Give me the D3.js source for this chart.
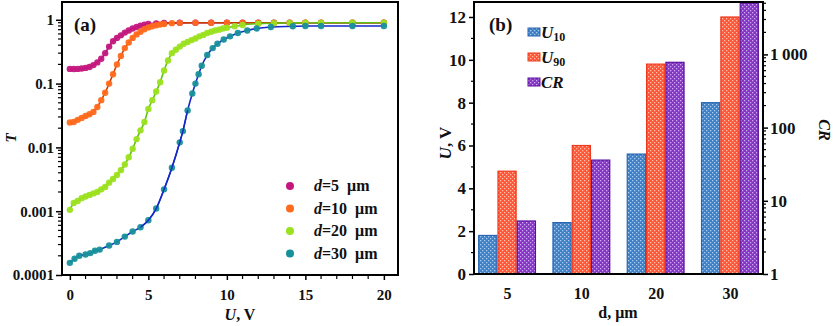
<!DOCTYPE html>
<html><head><meta charset="utf-8">
<script src="https://cdn.jsdelivr.net/npm/d3@7"></script>
<style>
body{margin:0;background:#fff}
svg{display:block}
text{font-family:"Liberation Serif","Times New Roman",serif;font-weight:bold;fill:#111}
</style>
</head><body>
<svg id="c" width="834" height="326"></svg>
<script>
// ---------- Panel (a) data ----------
const U_d5 = [0,0.25,0.5,0.75,1.0,1.25,1.5,1.75,2.0,2.25,2.5,2.75,3.0,3.25,3.5,3.75,4.0,4.25,4.5,4.75,5.0,5.5,6.0,7.0,8,9,10,11,12,13,14,15,16,18,20];
const T_d5 = [0.170,0.169,0.170,0.172,0.176,0.182,0.195,0.215,0.245,0.300,0.380,0.460,0.520,0.570,0.630,0.680,0.730,0.770,0.810,0.835,0.860,0.880,0.890,0.900,0.90,0.90,0.90,0.90,0.90,0.90,0.90,0.90,0.90,0.90,0.90];

const U_d10 = [0,0.25,0.5,0.75,1.0,1.25,1.5,1.75,2.0,2.25,2.5,2.75,3.0,3.25,3.5,3.75,4.0,4.25,4.5,4.75,5.0,5.25,5.5,5.75,6.0,6.5,7.0,8,9,10,11,12,13,14,15,16,18,20];
const T_d10 = [0.0245,0.025,0.027,0.029,0.031,0.033,0.036,0.043,0.055,0.072,0.100,0.140,0.200,0.270,0.360,0.440,0.520,0.590,0.650,0.710,0.760,0.790,0.820,0.845,0.860,0.885,0.895,0.90,0.90,0.90,0.90,0.90,0.90,0.90,0.90,0.90,0.90,0.90];

const U_d20 = [0,0.25,0.5,0.75,1.0,1.25,1.5,1.75,2.0,2.25,2.5,2.75,3.0,3.25,3.5,3.75,4.0,4.25,4.5,4.75,5.0,5.25,5.5,5.75,6.0,6.25,6.5,6.75,7.0,7.25,7.5,7.75,8.0,8.25,8.5,8.75,9.0,9.25,9.5,9.75,10.0,10.5,11.0,12,13,14,15,16,18,20];
const T_d20 = [0.00105,0.00135,0.00145,0.0016,0.0017,0.0018,0.0019,0.0020,0.0022,0.0024,0.0028,0.0032,0.0037,0.0044,0.0054,0.0070,0.0095,0.0135,0.0185,0.025,0.040,0.055,0.075,0.105,0.160,0.230,0.300,0.340,0.380,0.420,0.450,0.480,0.510,0.550,0.580,0.620,0.650,0.680,0.700,0.730,0.750,0.790,0.830,0.870,0.885,0.895,0.90,0.90,0.90,0.90];

const U_d30 = [0,0.3,0.6,1.0,1.3,1.6,1.9,2.5,3.0,3.5,4.0,4.5,5.0,5.5,6.0,6.5,7.0,7.2,7.5,7.8,8.0,8.2,8.4,8.75,9.1,9.4,9.8,10.2,10.7,11.3,11.9,12.8,14.2,15,16,18,20];
const T_d30 = [0.000155,0.00018,0.0002,0.00021,0.00022,0.00024,0.00025,0.00029,0.00033,0.00040,0.00048,0.00056,0.00072,0.0011,0.0022,0.0048,0.012,0.018,0.038,0.070,0.100,0.140,0.190,0.280,0.360,0.420,0.490,0.550,0.620,0.680,0.730,0.770,0.790,0.800,0.800,0.800,0.800];

const seriesA_labels = ["5","10","20","30"];
const seriesA_marker = ["#c4177e","#ff6a1c","#9be21e","#17909a"];
const seriesA_line   = ["#a00060","#c83c00","#62c010","#1428c8"];
const yTicksA = [1e-4,1e-3,1e-2,0.1,1];
const yTickLabelsA = ["0.0001","0.001","0.01","0.1","1"];
const xTicksA = [0,5,10,15,20];

// ---------- Panel (b) data ----------
const categoriesB = ["5","10","20","30"];
const U10 = [1.8,2.4,5.6,8.0];
const U90 = [4.8,6.0,9.8,12.0];
const CR  = [5.3,36,780,5000];
const leftTicksB = [0,2,4,6,8,10,12];
const rightTicksB = [1,10,100,1000];
const rightTickLabelsB = ["1","10","100","1\u2009000"];

const svg = d3.select("#c");

// ================= Panel (a) =================
const ax = d3.scaleLinear([-0.5,20.9],[62,398]);
const ay = d3.scaleLog([1e-4,1.9],[275,2]);
const gA = svg.append("g");

const dataA = [[U_d5,T_d5],[U_d10,T_d10],[U_d20,T_d20],[U_d30,T_d30]];
const line = d3.line().x(d=>ax(d[0])).y(d=>ay(d[1])).curve(d3.curveMonotoneX);
dataA.forEach((s,i)=>{
  const pts = s[0].map((u,k)=>[u,s[1][k]]);
  gA.append("path").attr("d",line(pts)).attr("fill","none")
    .attr("stroke",seriesA_line[i]).attr("stroke-width",1.6);
});
dataA.forEach((s,i)=>{
  const pts = s[0].map((u,k)=>[u,s[1][k]]);
  gA.selectAll(null).data(pts).enter().append("circle")
    .attr("cx",d=>ax(d[0])).attr("cy",d=>ay(d[1])).attr("r",3.2)
    .attr("fill",seriesA_marker[i]).attr("fill-opacity",0.95);
});
{
  const pts = U_d30.map((u,k)=>[u,T_d30[k]]).filter(d=>d[0]>=4.5 && d[0]<=7.6);
  gA.append("path").attr("d",line(pts)).attr("fill","none").attr("stroke","#1428c8").attr("stroke-width",1.4);
}

gA.append("rect").attr("x",62).attr("y",2).attr("width",336).attr("height",273)
  .attr("fill","none").attr("stroke","#000").attr("stroke-width",2);

const yMinorA = ay.ticks().filter(v=>!yTicksA.some(t=>Math.abs(t-v)/t<1e-6));
gA.selectAll(null).data(yMinorA).enter().append("line")
  .attr("x1",62).attr("x2",58).attr("y1",d=>ay(d)).attr("y2",d=>ay(d)).attr("stroke","#000").attr("stroke-width",1.2);
const axLeftA = d3.axisLeft(ay).tickValues(yTicksA).tickFormat((d,i)=>yTickLabelsA[i]).tickSize(6).tickPadding(2);
const gl = gA.append("g").attr("transform","translate(62,0)").call(axLeftA);
gl.select(".domain").remove();
gl.selectAll("line").attr("stroke","#000").attr("stroke-width",1.5);
gl.selectAll("text").attr("font-size",15).attr("font-family","Liberation Serif").attr("font-weight","bold").attr("fill","#111");

const xMinorA = d3.range(0,21,1).filter(v=>v%5!==0);
gA.selectAll(null).data(xMinorA).enter().append("line")
  .attr("y1",275).attr("y2",279).attr("x1",d=>ax(d)).attr("x2",d=>ax(d)).attr("stroke","#000").attr("stroke-width",1.2);
const axBottomA = d3.axisBottom(ax).tickValues(xTicksA).tickFormat(d3.format("d")).tickSize(5).tickPadding(9);
const gb = gA.append("g").attr("transform","translate(0,275)").call(axBottomA);
gb.select(".domain").remove();
gb.selectAll("line").attr("stroke","#000").attr("stroke-width",1.5);
gb.selectAll("text").attr("font-size",15).attr("font-family","Liberation Serif").attr("font-weight","bold").attr("fill","#111");

gA.append("text").attr("transform","translate(16,138) rotate(-90)").attr("text-anchor","middle")
  .attr("font-size",15).attr("font-style","italic").text("T");
const xt = gA.append("text").attr("x",240).attr("y",320).attr("text-anchor","middle").attr("font-size",16);
xt.append("tspan").attr("font-style","italic").text("U");
xt.append("tspan").text(", V");

gA.append("text").attr("x",74).attr("y",31).attr("font-family","Liberation Sans,Arial,sans-serif")
  .attr("font-size",19).attr("font-weight","bold").text("(a)");

seriesA_labels.forEach((lab,i)=>{
  const yy = 186 + i*22.5;
  gA.append("circle").attr("cx",290).attr("cy",yy).attr("r",4).attr("fill",seriesA_marker[i]);
  const t = gA.append("text").attr("x",314).attr("y",yy+5).attr("font-size",16);
  t.append("tspan").attr("font-style","italic").text("d");
  t.append("tspan").text("="+lab+"\u00a0\u00a0\u03bcm");
});

// ================= Panel (b) =================
const gB = svg.append("g");
const L = 474, R = 763, B = 274, TOP = 2;
const bx = d3.scalePoint(categoriesB,[L,R]).padding(0.445);
const keys = ["U10","U90","CR"];
const bx1 = d3.scaleBand(keys,[-29,29]).padding(0);
const yL = d3.scaleLinear([0,12.7],[B,TOP]);
const yR = d3.scaleLog([1,5200],[B,TOP]);

const defs = svg.append("defs");
const pat = [
  {id:"pU10", base:"#3f7fc4", dot:"#a9cdf0", stroke:"#2a66b0"},
  {id:"pU90", base:"#ff5538", dot:"#ffc0a8", stroke:"#ee3a1e"},
  {id:"pCR",  base:"#8236c2", dot:"#d0a8f0", stroke:"#5c12a0"}
];
pat.forEach(p=>{
  const pp = defs.append("pattern").attr("id",p.id).attr("patternUnits","userSpaceOnUse")
    .attr("width",4).attr("height",4);
  pp.append("rect").attr("width",4).attr("height",4).attr("fill",p.base);
  pp.append("rect").attr("x",0).attr("y",0).attr("width",1.3).attr("height",1.3).attr("fill",p.dot);
  pp.append("rect").attr("x",2).attr("y",2).attr("width",1.3).attr("height",1.3).attr("fill",p.dot);
});

const barData = categoriesB.map((c,i)=>({c, vals:[
  {k:"U10", y:yL(U10[i])}, {k:"U90", y:yL(U90[i])}, {k:"CR", y:yR(CR[i])}
]}));
barData.forEach(d=>{
  d.vals.forEach((v,j)=>{
    gB.append("rect").attr("x",bx(d.c)+bx1(v.k)+0.6).attr("width",bx1.bandwidth()-1.2)
      .attr("y",v.y).attr("height",B-v.y)
      .attr("fill",`url(#${pat[j].id})`).attr("stroke",pat[j].stroke).attr("stroke-width",1.2);
  });
});

gB.append("line").attr("x1",L).attr("x2",R).attr("y1",TOP).attr("y2",TOP).attr("stroke","#000").attr("stroke-width",2);
gB.append("line").attr("x1",L).attr("x2",R).attr("y1",B).attr("y2",B).attr("stroke","#000").attr("stroke-width",2);
gB.append("line").attr("x1",L).attr("x2",L).attr("y1",TOP-1).attr("y2",B+1).attr("stroke","#000").attr("stroke-width",2);
gB.append("line").attr("x1",R).attr("x2",R).attr("y1",TOP-1).attr("y2",B+1).attr("stroke","#000").attr("stroke-width",2);

const leftMinor = d3.range(1,13,2);
gB.selectAll(null).data(leftMinor).enter().append("line")
  .attr("x1",L).attr("x2",L-3).attr("y1",d=>yL(d)).attr("y2",d=>yL(d)).attr("stroke","#000").attr("stroke-width",1.2);
const glb = gB.append("g").attr("transform",`translate(${L},0)`)
  .call(d3.axisLeft(yL).tickValues(leftTicksB).tickFormat(d3.format("d")).tickSize(5).tickPadding(3));
glb.select(".domain").remove();
glb.selectAll("line").attr("stroke","#000").attr("stroke-width",1.5);
glb.selectAll("text").attr("font-size",17).attr("font-family","Liberation Serif").attr("font-weight","bold").attr("fill","#111");

const rMinor = yR.ticks().filter(v=>!rightTicksB.some(t=>Math.abs(t-v)/t<1e-6));
gB.selectAll(null).data(rMinor).enter().append("line")
  .attr("x1",R).attr("x2",R+3).attr("y1",d=>yR(d)).attr("y2",d=>yR(d)).attr("stroke","#000").attr("stroke-width",1.2);
const grb = gB.append("g").attr("transform",`translate(${R},0)`)
  .call(d3.axisRight(yR).tickValues(rightTicksB).tickFormat((d,i)=>rightTickLabelsB[i]).tickSize(5).tickPadding(2));
grb.select(".domain").remove();
grb.selectAll("line").attr("stroke","#000").attr("stroke-width",1.5);
grb.selectAll("text").attr("font-size",17).attr("font-family","Liberation Serif").attr("font-weight","bold").attr("fill","#111");

const gbb = gB.append("g").attr("transform",`translate(0,${B})`)
  .call(d3.axisBottom(bx).tickSize(0).tickPadding(14));
gbb.select(".domain").remove();
gbb.selectAll("text").attr("font-size",16).attr("font-family","Liberation Serif").attr("font-weight","bold").attr("fill","#111");

gB.append("text").attr("x",618).attr("y",318).attr("text-anchor","middle").attr("font-size",16).text("d, \u03bcm");
const ylt = gB.append("text").attr("transform","translate(451,143) rotate(-90)").attr("text-anchor","middle").attr("font-size",17);
ylt.append("tspan").attr("font-style","italic").text("U");
ylt.append("tspan").text(", V");
gB.append("text").attr("transform","translate(819,130) rotate(90)").attr("text-anchor","middle")
  .attr("font-size",16).attr("font-style","italic").attr("font-weight","normal").text("CR");

gB.append("text").attr("x",489).attr("y",31).attr("font-family","Liberation Sans,Arial,sans-serif")
  .attr("font-size",19).attr("font-weight","bold").text("(b)");

const legB = [{k:"U10",main:"U",sub:"10"},{k:"U90",main:"U",sub:"90"},{k:"CR",main:"CR",sub:""}];
legB.forEach((l,i)=>{
  const yy = 32 + i*25;
  gB.append("rect").attr("x",528).attr("y",yy-4).attr("width",12).attr("height",8)
    .attr("fill",`url(#${pat[i].id})`).attr("stroke",pat[i].stroke).attr("stroke-width",1);
  const t = gB.append("text").attr("x",541).attr("y",yy+6).attr("font-size",17);
  t.append("tspan").attr("font-style","italic").text(l.main);
  if(l.sub) t.append("tspan").attr("font-size",12).attr("dy",3).text(l.sub);
});
</script>
</body></html>
